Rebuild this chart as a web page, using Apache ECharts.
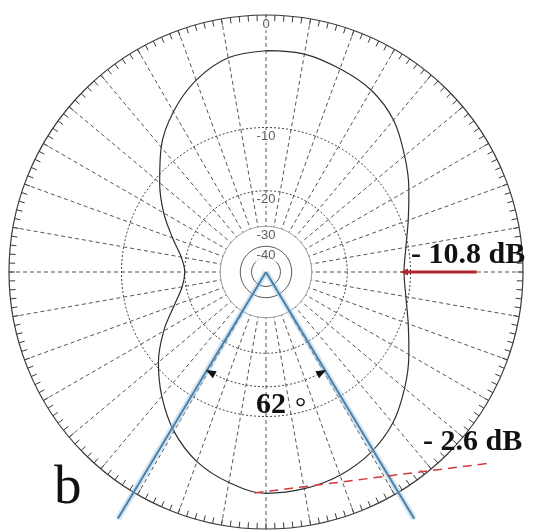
<!DOCTYPE html>
<html>
<head>
<meta charset="utf-8">
<script src="https://cdn.jsdelivr.net/npm/echarts@6/dist/echarts.min.js"></script>
<style>
  html, body { margin: 0; padding: 0; background: #fff; }
  #chart { width: 535px; height: 531px; }
</style>
</head>
<body>
<div id="chart"></div>
<script>
// Radiation pattern, angle clockwise from the top (degrees) and level (dB)
const patternAngles = [0, 10, 20, 30, 40, 50, 60, 70, 80, 90, 100, 110, 120, 130, 140, 150, 160, 170,
                       180, 190, 200, 210, 220, 230, 240, 250, 260, 270, 280, 290, 300, 310, 320, 330, 340, 350, 360];
const patternDb = [-2.6, -2.6, -3.0, -3.5, -4.5, -6.1, -7.7, -9.2, -10.3, -10.8, -10.3, -9.2, -7.7, -6.1, -4.6, -3.6, -3.0, -2.7,
                   -2.6, -3.2, -4.2, -5.8, -8.0, -10.5, -13.5, -16.8, -19.2, -20.0, -19.0, -16.5, -13.5, -10.7, -7.9, -5.7, -4.0, -2.9, -2.6];

// Level rings and their labels
const ringDb = [-10, -20, -30, -40, -50];
const ringLabelDb = [0, -10, -20, -30, -40];

// Beam edges (degrees) and beam width label
const beamEdges = [149, 211];
const beamWidth = 62;
const beamArcDb = -14;

// Annotated levels
const sideLevelDb = -10.8;
const sideLevelAngle = 90;
const backLevelDb = -2.6;
const backLevelAngle = 183;

// display radius: 10 dB per ring step, 0 dB at the rim
const dbToR = db => Math.pow(10, db / 40);
const OUTER = 1.15;   // reach of the wide polar used for marks that run past the rim
const RIM_PX = 257;

const circle = (r) => {
  const pts = [];
  for (let a = 0; a <= 360; a += 2) pts.push([r, a]);
  return pts;
};

const series = [];

// blank disc inside the -30 dB ring
series.push({
  type: 'line', coordinateSystem: 'polar', polarIndex: 0, symbol: 'none', silent: true, z: 1,
  data: circle(dbToR(-30)),
  lineStyle: { color: '#9a9a9a', width: 1 },
  areaStyle: { color: '#ffffff', opacity: 1 }
});

ringDb.forEach(db => {
  if (db === -30) return;
  const dotted = db > -30;
  series.push({
    type: 'line', coordinateSystem: 'polar', polarIndex: 0, symbol: 'none', silent: true, z: 2,
    data: circle(dbToR(db)),
    lineStyle: { color: dotted ? '#444' : '#555', width: 1, type: dotted ? [2, 2] : 'solid' }
  });
});

// ring labels along the 0 deg radial
series.push({
  type: 'scatter', coordinateSystem: 'polar', polarIndex: 0, symbolSize: 0, z: 5,
  data: ringLabelDb.map(db => ({ value: [dbToR(db), 0], name: String(db) })),
  label: {
    show: true, position: 'inside', offset: [0, 9],
    formatter: p => p.name,
    fontFamily: 'Liberation Sans', fontSize: 13, color: '#333',
    backgroundColor: '#fff', padding: [0, 1]
  }
});

// pattern
series.push({
  type: 'line', coordinateSystem: 'polar', polarIndex: 0, symbol: 'none', smooth: 0.35, z: 6,
  data: patternAngles.map((a, i) => [dbToR(patternDb[i]), a]),
  lineStyle: { color: '#2e2e2e', width: 1.2 }
});

// beam edge lines with a soft halo (wide polar so they run past the rim)
beamEdges.forEach(a => {
  series.push({
    type: 'line', coordinateSystem: 'polar', polarIndex: 1, symbol: 'none', z: 7,
    data: [[0, a], [1.12, a]],
    lineStyle: { color: 'rgba(150, 200, 230, 0.45)', width: 6 }
  });
  series.push({
    type: 'line', coordinateSystem: 'polar', polarIndex: 1, symbol: 'none', z: 8,
    data: [[0, a], [1.12, a]],
    lineStyle: { color: '#4f7fa3', width: 2 }
  });
});

// beam width arc with arrowheads
(function () {
  const r = dbToR(beamArcDb);
  const pts = [];
  const a0 = beamEdges[0] + 2, a1 = beamEdges[1] - 2;
  for (let a = a0; a <= a1 + 1e-6; a += 2) pts.push([r, a]);
  pts[pts.length - 1] = [r, a1];
  const data = pts.map((p, i) => {
    if (i === 0) return { value: p, symbol: 'triangle', symbolSize: [8, 10], symbolRotate: -62 };
    if (i === pts.length - 1) return { value: p, symbol: 'triangle', symbolSize: [8, 10], symbolRotate: 62 };
    return { value: p, symbol: 'none' };
  });
  series.push({
    type: 'line', coordinateSystem: 'polar', polarIndex: 0, showSymbol: true, z: 9,
    data,
    itemStyle: { color: '#111' },
    lineStyle: { color: '#444', width: 1, type: [2, 2] }
  });
})();

// side level arrow
series.push({
  type: 'line', coordinateSystem: 'polar', polarIndex: 1, showSymbol: true, z: 10,
  data: [
    { value: [0.82, sideLevelAngle], symbol: 'none' },
    { value: [dbToR(sideLevelDb), sideLevelAngle], symbol: 'triangle', symbolSize: [7, 8], symbolRotate: 90 }
  ],
  itemStyle: { color: '#b3262a' },
  lineStyle: { color: '#b3262a', width: 3 }
});

// back level dashed marker, starting on the back lobe
series.push({
  type: 'line', coordinateSystem: 'polar', polarIndex: 1, symbol: 'none', z: 10,
  data: [[dbToR(backLevelDb), backLevelAngle], [1.145, 130.5]],
  lineStyle: { color: '#d23a3a', width: 1.5, type: [9, 6] }
});

const chart = echarts.init(document.getElementById('chart'), null, { renderer: 'canvas' });
chart.setOption({
  backgroundColor: '#ffffff',
  animation: false,
  polar: [
    { center: [266, 272], radius: RIM_PX },
    { center: [266, 272], radius: RIM_PX * OUTER }
  ],
  angleAxis: [{
    polarIndex: 0,
    type: 'value', min: 0, max: 360, interval: 10, startAngle: 90, clockwise: true,
    axisLine: { lineStyle: { color: '#3a3a3a', width: 1.2 } },
    axisTick: { show: true, inside: true, length: 6, lineStyle: { color: '#3a3a3a', width: 1 } },
    minorTick: { show: true, splitNumber: 5, length: 6, lineStyle: { color: '#3a3a3a', width: 1 } },
    axisLabel: { show: false },
    splitLine: { show: true, lineStyle: { color: '#555', width: 1, type: [4, 3] } }
  }, {
    polarIndex: 1,
    type: 'value', min: 0, max: 360, startAngle: 90, clockwise: true,
    axisLine: { show: false }, axisTick: { show: false }, axisLabel: { show: false }, splitLine: { show: false }
  }],
  radiusAxis: [{
    polarIndex: 0, type: 'value', min: 0, max: 1,
    axisLine: { show: false }, axisTick: { show: false }, axisLabel: { show: false }, splitLine: { show: false }
  }, {
    polarIndex: 1, type: 'value', min: 0, max: OUTER,
    axisLine: { show: false }, axisTick: { show: false }, axisLabel: { show: false }, splitLine: { show: false }
  }],
  series,
  graphic: [
    { type: 'text', left: 411, top: 240, z: 20,
      style: { text: '- ' + Math.abs(sideLevelDb).toFixed(1) + ' dB', fontFamily: 'Liberation Serif', fontWeight: 'bold', fontSize: 30, fill: '#111' } },
    { type: 'text', left: 423, top: 427, z: 20,
      style: { text: '- ' + Math.abs(backLevelDb).toFixed(1) + ' dB', fontFamily: 'Liberation Serif', fontWeight: 'bold', fontSize: 30, fill: '#111' } },
    { type: 'text', left: 256, top: 390, z: 20,
      style: { text: String(beamWidth), fontFamily: 'Liberation Serif', fontWeight: 'bold', fontSize: 30, fill: '#111' } },
    { type: 'text', left: 295, top: 395, z: 20,
      style: { text: '°', fontFamily: 'Liberation Serif', fontSize: 28, fill: '#111' } },
    { type: 'text', left: 54, top: 461, z: 20,
      style: { text: 'b', fontFamily: 'Liberation Serif', fontSize: 55, fill: '#111' } }
  ]
});
</script>
</body>
</html>
